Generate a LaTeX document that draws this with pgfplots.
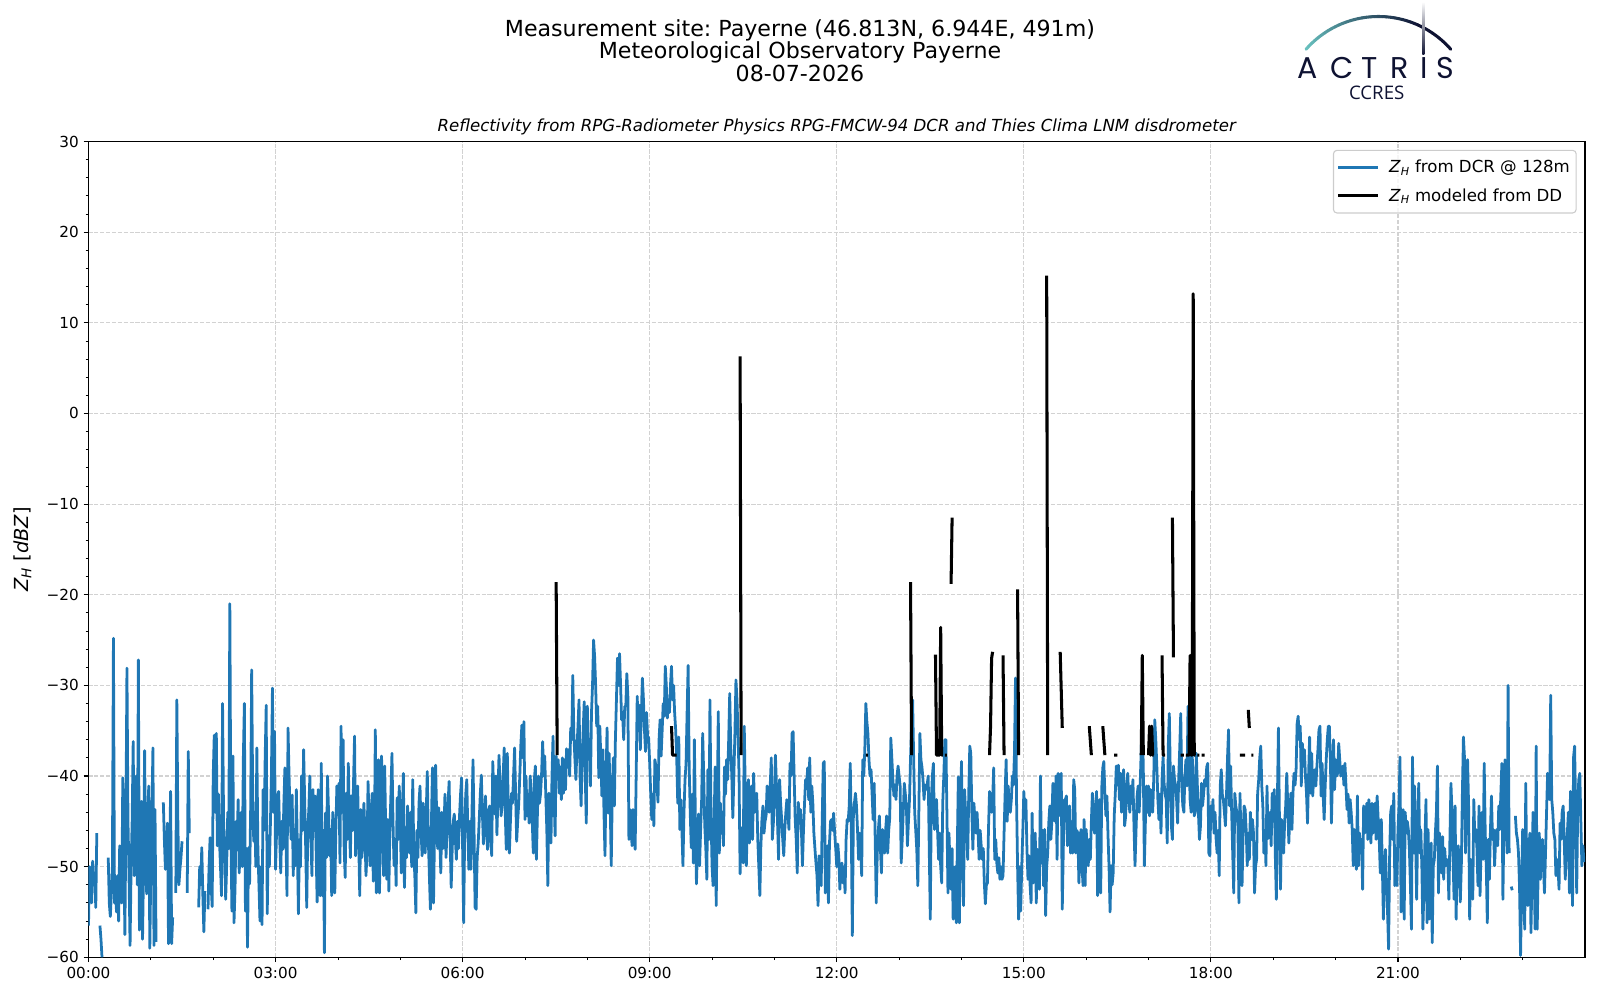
\documentclass[border=0pt]{standalone}
\usepackage{fontspec}
\setmainfont{DejaVu Sans}
\newfontfamily\logofont{Poppins}
\newfontfamily\ccresfont{Open Sans}
\usepackage{pgfplots}
\pgfplotsset{compat=1.18}
\definecolor{mplblue}{HTML}{1F77B4}
\definecolor{actnavy}{RGB}{14,18,50}
\definecolor{actteal}{RGB}{104,192,190}
\frenchspacing
\begin{document}
\begin{tikzpicture}
\useasboundingbox (0,0) rectangle (16in,10in);
\node[anchor=base,font=\fontsize{16}{19}\selectfont] at (8in,9.635in) {Measurement site: Payerne (46.813N, 6.944E, 491m)};
\node[anchor=base,font=\fontsize{16}{19}\selectfont] at (8in,9.41in) {Meteorological Observatory Payerne};
\node[anchor=base,font=\fontsize{16}{19}\selectfont] at (8in,9.185in) {08-07-2026};
\node[anchor=base,font=\fontsize{12}{14}\selectfont\itshape] at (8.367in,8.683in) {Reflectivity from RPG-Radiometer Physics RPG-FMCW-94 DCR and Thies Clima LNM disdrometer};
\begin{axis}[
  at={(0.885in,0.427in)}, anchor=south west,
  width=14.965in, height=8.158in, scale only axis,
  xmin=0, xmax=1440, ymin=-60, ymax=30,
  xtick={0,180,...,1260},
  xticklabels={00:00,03:00,06:00,09:00,12:00,15:00,18:00,21:00},
  minor xtick={60,120,240,300,420,480,600,660,780,840,960,1020,1140,1200,1320,1380},
  ytick={-60,-50,...,30},
  yticklabels={−60,−50,−40,−30,−20,−10,0,10,20,30},
  minor ytick={-58,-56,-54,-52,-48,-46,-44,-42,-38,-36,-34,-32,-28,-26,-24,-22,-18,-16,-14,-12,-8,-6,-4,-2,2,4,6,8,12,14,16,18,22,24,26,28},
  tick align=outside, tick pos=left,
  major tick length=3.5pt, minor tick length=2pt,
  every major tick/.append style={black,line width=0.8pt},
  every minor tick/.append style={black,line width=0.6pt},
  axis line style={line width=0.8pt},
  grid=major,
  major grid style={draw=gray!35, line width=0.8pt, dash pattern=on 2.96pt off 1.28pt},
  tick label style={font=\fontsize{11}{13}\selectfont},
  ylabel={\textit{Z}\textsubscript{\textit{H}} [\textit{dBZ}]},
  every axis y label/.style={at={(axis description cs:-0.0441,0.5)}, rotate=90, anchor=center, font=\fontsize{14}{16}\selectfont},
  unbounded coords=jump,
  legend style={at={(1,1)}, anchor=north east, xshift=-6pt, yshift=-6pt, draw=black!20, line width=0.8pt, rounded corners=2.5pt, fill=white, fill opacity=0.8, text opacity=1, draw opacity=1, font=\fontsize{12}{14}\selectfont, inner xsep=2.5pt, inner ysep=5pt, row sep=6pt, /tikz/every odd column/.append style={column sep=5pt}},
  legend cell align=left,
  legend image code/.code={\draw[#1] (0pt,0pt) -- (28.5pt,0pt);},
]
\addplot[mplblue, line width=2pt, line join=round] table[header=false, row sep=\\, x expr=\coordindex, y index=0] {
-56.5\\ -50\\ -52\\ -54\\ -49.4\\ -52\\ -50.7\\ -54.5\\ -46.3\\ nan\\ nan\\ -56.5\\ -58\\ -60\\ nan\\ nan\\ nan\\ nan\\ nan\\ -49\\ -54\\ -55.5\\ -53\\ -50\\ -24.8\\ -54\\ -53\\ -55\\ -51\\ -56\\ -47.7\\ -50\\ -54\\ -40.2\\ -48\\ -57.5\\ -45\\ -28.1\\ -45\\ -51\\ -58.7\\ -50\\ -45\\ -36.2\\ -51\\ -46\\ -40\\ -52\\ -27.2\\ -57\\ -48\\ -42.8\\ -58\\ -50\\ -37.2\\ -50\\ -53\\ -44\\ -41.1\\ -59\\
-50\\ -44\\ -36.9\\ -58.7\\ -43.7\\ -58.3\\ nan\\ nan\\ nan\\ nan\\ nan\\ nan\\ -42.9\\ -47\\ -50.3\\ -48\\ -45.2\\ -58.5\\ -50\\ -41.7\\ -58.5\\ -55.6\\ nan\\ nan\\ -52.9\\ -31.6\\ -45\\ -52\\ -50.3\\ -49\\ -47.2\\ nan\\ nan\\ nan\\ nan\\ -52.9\\ -37.3\\ -46.3\\ nan\\ nan\\ nan\\ nan\\ nan\\ nan\\ nan\\ nan\\ -54.5\\ -50\\ -52\\ -47.9\\ -53\\ -57.2\\ -52.7\\ nan\\ nan\\ -54.7\\ -50\\ -46.8\\ -52\\ -54.4\\
-40\\ -35.5\\ -44\\ -35.3\\ -47.7\\ -42\\ -47\\ -50\\ -53.2\\ -32\\ -45\\ -48.4\\ -53.6\\ -49.7\\ -44\\ -48\\ -21\\ -46\\ -54.9\\ -37.8\\ -56.2\\ -52.5\\ -45\\ -47.5\\ -42.6\\ -50.7\\ -47.9\\ -44\\ -50\\ -38\\ -32\\ -54.9\\ -48\\ -58.9\\ -47.9\\ -51.9\\ -44\\ -28.3\\ -42\\ -47.2\\ -44\\ -50\\ -36.9\\ -48\\ -52\\ -56\\ -50\\ -56.4\\ -41.5\\ -46\\ -38\\ -32.2\\ -55.2\\ -46.6\\ -50\\ -45.5\\ -40\\ -30.3\\ -44\\ -35.1\\
-50.3\\ -46\\ -42.2\\ -41.7\\ -47\\ -50.7\\ -45\\ -48.1\\ -43\\ -39.1\\ -47\\ -53.2\\ -34.7\\ -40\\ -44.1\\ -47\\ -42.1\\ -51\\ -46\\ -49.9\\ -41.5\\ -48\\ -55.2\\ -47\\ -50\\ -40\\ -46\\ -37.1\\ -42.6\\ -48\\ -54.5\\ -46\\ -43.7\\ -40\\ -47\\ -51\\ -41.5\\ -46\\ -42.2\\ -48\\ -53.9\\ -41.5\\ -47\\ -53.2\\ -38.6\\ -53.2\\ -46\\ -59.5\\ -44.1\\ -49\\ -40\\ -44\\ -48.8\\ -45.9\\ -53.2\\ -44\\ -45.7\\ -52.9\\ -46\\ -41.1\\
-44\\ -40.8\\ -49.6\\ -34.5\\ -44\\ -36\\ -48\\ -51.2\\ -41.9\\ -47\\ -38.6\\ -45\\ -49\\ -42.2\\ -46\\ -40.8\\ -35.6\\ -48.8\\ -44\\ -41.1\\ -47\\ -53.2\\ -43.7\\ -49\\ -47.4\\ -43\\ -46.3\\ -51\\ -48.5\\ -40.6\\ -45\\ -49.9\\ -44\\ -41.9\\ -51.6\\ -49\\ -34.9\\ -52.9\\ -44\\ -38.2\\ -52.9\\ -45\\ -37.8\\ -46\\ -51\\ -38.9\\ -46\\ -51.4\\ -44.8\\ -52.7\\ -46\\ -42\\ -37.5\\ -45\\ -49.9\\ -47\\ -52.1\\ -42.4\\ -47\\ -41.1\\
-45\\ -50.7\\ -44\\ -39.7\\ -52.3\\ -47\\ -49\\ -43.3\\ -46\\ -48.5\\ -44\\ -50\\ -40.4\\ -48.5\\ -51\\ -55.1\\ -46\\ -49\\ -43\\ -41.1\\ -46\\ -48.8\\ -43\\ -44.5\\ -48.5\\ -44\\ -39.5\\ -47\\ -51\\ -54.7\\ -45\\ -39.1\\ -54\\ -46\\ -38.8\\ -44.2\\ -48\\ -43.5\\ -47\\ -50.7\\ -44\\ -48\\ -46.3\\ -42\\ -49\\ -46\\ -43\\ -40.6\\ -47\\ -52.3\\ -48\\ -45\\ -44.2\\ -47\\ -49.2\\ -45\\ -48\\ -44.4\\ -42\\ -40.2\\
-48\\ -56.2\\ -46\\ -42\\ -40.4\\ -46\\ -50.3\\ -45\\ -50.3\\ -44\\ -38.2\\ -46\\ -54.5\\ -54.7\\ -49\\ -47.4\\ -44.8\\ -42\\ -39.9\\ -44\\ -47.5\\ -45\\ -42.2\\ -46\\ -48.1\\ -44\\ -43.3\\ -47\\ -48.8\\ -38.4\\ -42\\ -44.2\\ -40\\ -46.5\\ -42\\ -37.7\\ -41\\ -44.4\\ -43.3\\ -40\\ -36.9\\ -44\\ -48.1\\ -37.5\\ -44\\ -48.5\\ -45\\ -41.9\\ -43\\ -40\\ -36.9\\ -42\\ -47.2\\ -45\\ -43\\ -40\\ -36.6\\ -34.4\\ -38\\ -34\\
-44.8\\ -40\\ -44.4\\ -42\\ -45.2\\ -40\\ -41.9\\ -45\\ -48.5\\ -40.4\\ -38.9\\ -49.2\\ -44\\ -40\\ -43\\ -41.9\\ -39.7\\ -36.2\\ -40\\ -37.8\\ -42\\ -45.9\\ -52.1\\ -41.9\\ -46\\ -47.4\\ -40\\ -35.6\\ -42.2\\ -46.6\\ -37.8\\ -40\\ -38.2\\ -41.9\\ -39\\ -42.6\\ -38\\ -41.9\\ -38.2\\ -41.5\\ -37\\ -39\\ -37.1\\ -40\\ -34.7\\ -36\\ -28.9\\ -35.3\\ -38\\ -40.4\\ -37\\ -34.5\\ -31.6\\ -40\\ -43.3\\ -38.2\\ -35\\ -31.8\\ -40\\ -45.2\\
-32.3\\ -38\\ -36\\ -41.1\\ -33\\ -30\\ -25\\ -26.8\\ -30\\ -34.5\\ -32.3\\ -40.2\\ -34.5\\ -38\\ -42.2\\ -37.1\\ -44\\ -48.8\\ -40\\ -34.7\\ -44.1\\ -37.5\\ -43\\ -49.9\\ -42\\ -38\\ -43.3\\ -36\\ -31.6\\ -27\\ -30\\ -26.5\\ -30\\ -33.8\\ -33.4\\ -36\\ -32.3\\ -32.3\\ -28.7\\ -31.2\\ -47\\ -43.7\\ -45\\ -47.7\\ -43.7\\ -45\\ -48.1\\ -40\\ -31.2\\ -35\\ -32.2\\ -37.1\\ -33\\ -29.2\\ -31.6\\ -35\\ -37.3\\ -33\\ -35.6\\ -35.8\\
-38.6\\ -42\\ -44.8\\ -42\\ -45.5\\ -38.2\\ -38.9\\ -41\\ -42.9\\ -36\\ -33.8\\ -37.8\\ -35\\ -32\\ -33.4\\ -27.9\\ -30\\ -33.6\\ -31.6\\ -33\\ -30\\ -27.9\\ -31.6\\ -30\\ -33\\ -34.9\\ -38\\ -43\\ -35.7\\ -45.9\\ -42.6\\ -46\\ -49.9\\ -44\\ -40.4\\ -38.6\\ -33\\ -27.8\\ -39\\ -44\\ -47.9\\ -42\\ -49.6\\ -36\\ -45\\ -51.9\\ -48\\ -44.2\\ -49.9\\ -46\\ -42.6\\ -35.3\\ -40\\ -45.5\\ -48\\ -51.4\\ -39.3\\ -47\\ -31.6\\ -44\\
-49.9\\ -52.1\\ -45\\ -39\\ -54.3\\ -44\\ -32.9\\ -48.5\\ -43\\ -46.3\\ -44\\ -47.7\\ -39\\ -42\\ -38.2\\ -40.4\\ -36\\ -30.9\\ -36.7\\ -40\\ -44.6\\ -40\\ -35.3\\ -29.4\\ -31.6\\ -35.3\\ -40\\ -50.8\\ -45.7\\ -47\\ -49.6\\ -34.5\\ -42\\ -49.9\\ -45\\ -40.4\\ -47.4\\ -44\\ -41.1\\ -47\\ -39.7\\ -44\\ -42.6\\ -41.9\\ -47\\ -50\\ -53.2\\ -47.7\\ -44.8\\ -43.3\\ -46.3\\ -45\\ -44.4\\ -41.1\\ -43\\ -44\\ -41\\ -38\\ -47\\ -45.2\\
-42\\ -37.7\\ -41.1\\ -45\\ -49.2\\ -40.4\\ -43\\ -44.8\\ -47\\ -48.8\\ -45.9\\ -44\\ -42.6\\ -44\\ -45.9\\ -38.6\\ -40\\ -35.3\\ -35.1\\ -40\\ -44.8\\ -47\\ -50.7\\ -42.9\\ -45\\ -43.7\\ -46\\ -49.9\\ -45.9\\ -43\\ -40.4\\ -41\\ -39.1\\ -42.6\\ -38\\ -44\\ -41.1\\ -43\\ -46.3\\ -48\\ -49.6\\ -51\\ -54.3\\ -48.8\\ -50\\ -52.1\\ -45\\ -38.6\\ -38.4\\ -52.9\\ -49\\ -47.7\\ -54\\ -47.4\\ -45\\ -44.8\\ -46\\ -44.1\\ -46.3\\ -48\\
-50\\ -47.5\\ -49\\ -52.5\\ -50\\ -49.6\\ -51.8\\ -50\\ -52.9\\ -47\\ -44.8\\ -45\\ -43.3\\ -38.6\\ -46\\ -57.6\\ -44.4\\ -43\\ -41.9\\ -43.3\\ -46\\ -49.2\\ -46.3\\ -48\\ -51\\ -38.2\\ -40\\ -37.1\\ -32\\ -34\\ -35.3\\ -38.2\\ -40\\ -39.3\\ -42\\ -44.8\\ -40.8\\ -47\\ -54\\ -48.5\\ -46\\ -44.4\\ -48\\ -50.7\\ -45.9\\ -47\\ -48.5\\ -46\\ -44.4\\ -48.5\\ -46\\ -44.6\\ -35.8\\ -38\\ -40.4\\ -42.2\\ -41\\ -42.6\\ -40\\ -38.9\\
-40\\ -41.1\\ -49.6\\ -47\\ -44\\ -40.8\\ -42\\ -43.3\\ -47.7\\ -45\\ -42.6\\ -38\\ -34.5\\ -31.6\\ -38\\ -44\\ -46\\ -48.1\\ -52.1\\ -44\\ -35.3\\ -38.2\\ -39\\ -40.4\\ -42.6\\ -41\\ -41.5\\ -41\\ -40\\ -48\\ -55.8\\ -42.6\\ -40\\ -38.6\\ -45.9\\ -44\\ -42.6\\ -46\\ -49.2\\ -46.3\\ -50\\ -51.8\\ -42.9\\ -40\\ -36\\ -36\\ -44\\ -52.9\\ -46.3\\ -50\\ -52.5\\ -48\\ -55.8\\ -53.6\\ -50\\ -56.2\\ -48\\ -40.1\\ -56.2\\ -46\\
-38.4\\ -48\\ -54.3\\ -41.5\\ -44\\ -45.9\\ -49.2\\ -42\\ -36.7\\ -37.5\\ -44\\ -48.1\\ -43\\ -45\\ -46.3\\ -44\\ -46.3\\ -49.2\\ -46\\ -47.7\\ -49.2\\ -48\\ -51.8\\ -54.1\\ -52\\ -51.8\\ -45.9\\ -41.7\\ -43\\ -44\\ -42.6\\ -39.1\\ -49.2\\ -47\\ -49.6\\ -50.7\\ -49\\ -51.4\\ -50\\ -51.4\\ -51\\ -46.3\\ -42\\ -38.2\\ -45\\ -41.1\\ -43.3\\ -44\\ -42.6\\ -40\\ -41\\ -37.5\\ -29.2\\ -42.6\\ -50\\ -55.8\\ -50\\ -54.9\\ -50\\ -46.3\\
-41.7\\ -44\\ -42.6\\ -48\\ -51.4\\ -48.8\\ -52\\ -54\\ -44.1\\ -51.8\\ -48\\ -46.3\\ -54\\ -48.1\\ -50\\ -52.5\\ -40\\ -49.6\\ -46\\ -52.1\\ -45.9\\ -55.4\\ -50\\ -48.5\\ -45.2\\ -43.3\\ -47\\ -45\\ -40.8\\ -43.3\\ -45\\ -40\\ -49.2\\ -39.7\\ -42\\ -44.4\\ -39.7\\ -54.7\\ -48\\ -42.6\\ -42.6\\ -42.2\\ -47.7\\ -45\\ -43.3\\ -48.5\\ -47\\ -48.5\\ -40.4\\ -41.5\\ -48.5\\ -46\\ -46.3\\ -51.8\\ -48\\ -45.9\\ -50\\ -52.1\\ -44.8\\ -52.1\\
-45.9\\ -48\\ -49.9\\ -47\\ -49.2\\ -45\\ -41.9\\ -44.4\\ -46.3\\ -44\\ -41.7\\ -53.2\\ -47\\ -42.6\\ -52.9\\ -41.3\\ -39.1\\ -38.4\\ -42\\ -44.4\\ -42.2\\ -46.5\\ -50\\ -55\\ -49.9\\ -52\\ -50.7\\ -44.4\\ -42\\ -38.9\\ -41\\ -38.8\\ -42.6\\ -39.7\\ -44\\ -41\\ -39.3\\ -45.5\\ -44.4\\ -41\\ -39.7\\ -42.6\\ -44\\ -41.1\\ -43\\ -40.4\\ -45.5\\ -49.9\\ -46\\ -42.2\\ -41.1\\ -44\\ -40.8\\ -37\\ -33.4\\ -39.3\\ -49.9\\ -45\\ -41.1\\ -44\\
-41.1\\ -44.4\\ -41.5\\ -42\\ -44\\ -40.4\\ -33.8\\ -36\\ -38.9\\ -42.6\\ -44.8\\ -42\\ -46.3\\ -40.4\\ -37.9\\ -40.8\\ -42\\ -42.6\\ -47.4\\ -36.7\\ -33.1\\ -40\\ -45.5\\ -47\\ -38.9\\ -40.4\\ -41\\ -42.6\\ -45.2\\ -40.4\\ -37\\ -33.1\\ -41.1\\ -43.3\\ -44\\ -40\\ -38.2\\ -41.1\\ -32.3\\ -38\\ -42.6\\ -44\\ -37.5\\ -41\\ -44.4\\ -44\\ -37.5\\ -41.1\\ -44\\ -47\\ -45.5\\ -40.8\\ -43.3\\ -42\\ -40.4\\ -41.1\\ -39\\ -38.6\\ -48.5\\ -48.8\\
-43.3\\ -45\\ -42.6\\ -46.3\\ -44\\ -46.9\\ -48.5\\ -46\\ -51\\ -41.1\\ -39.3\\ -42\\ -42.6\\ -44\\ -45.5\\ -42.2\\ -38\\ -34.9\\ -43.3\\ -38.9\\ -44\\ -48.5\\ -52.9\\ -41.9\\ -43.3\\ -44\\ -45.5\\ -54\\ -41.9\\ -47\\ -52.1\\ -46.3\\ -43.3\\ -43.7\\ -46\\ -49.9\\ -46.3\\ -49.2\\ -44\\ -47\\ -44.8\\ -46.3\\ -52.9\\ -50\\ -49.2\\ -41.9\\ -40.4\\ -38\\ -36.7\\ -41.1\\ -43.3\\ -48.5\\ -46\\ -49.9\\ -41.1\\ -46.9\\ -45.2\\ -44\\ -47.7\\ -41.9\\
-44\\ -41.5\\ -48.8\\ -53.6\\ -42.6\\ -34.7\\ -45\\ -52.5\\ -44.8\\ -46.3\\ -48.5\\ -45\\ -43.3\\ -39.7\\ -43.3\\ -47.4\\ -44\\ -41.9\\ -45.9\\ -41.9\\ -39.7\\ -41\\ -39.3\\ -34.2\\ -33.4\\ -36\\ -34.5\\ -41.1\\ -36.4\\ -38.9\\ -37.1\\ -40\\ -41.9\\ -45.2\\ -40\\ -35.7\\ -41.9\\ -37.5\\ -42.2\\ -40\\ -39.3\\ -41.1\\ -39\\ -37.1\\ -34.9\\ -34.5\\ -42.2\\ -38.6\\ -42\\ -44.8\\ -41.1\\ -38.2\\ -36\\ -34.5\\ -34.5\\ -38.2\\ -45.2\\ -40\\ -36\\ -41.5\\
-38.2\\ -40\\ -39.7\\ -36.4\\ -38.2\\ -40\\ -39.7\\ -38.9\\ -41\\ -38.6\\ -41.1\\ -43.7\\ -42\\ -45.2\\ -42.6\\ -44\\ -45.9\\ -49.9\\ -45.9\\ -47\\ -50.3\\ -42.2\\ -49.9\\ -46.3\\ -48.5\\ -47\\ -52.5\\ -43.3\\ -46.3\\ -45\\ -43\\ -47\\ -42.6\\ -45\\ -47.4\\ -43\\ -46.3\\ -44\\ -43\\ -47\\ -42.2\\ -44.8\\ -47\\ -50.7\\ -44.8\\ -50\\ -55.8\\ -49.9\\ -48.1\\ -52.1\\ -55\\ -59.1\\ -48.8\\ -44\\ -43.3\\ -47\\ -41.9\\ -52.1\\ -48.5\\ -52.1\\
-46\\ -43.3\\ -37.9\\ -55\\ -48\\ -43.7\\ -55.8\\ -44\\ -46.3\\ -45\\ -45.9\\ -48.1\\ -52\\ -56.9\\ -37.9\\ -48.5\\ -41.1\\ -47\\ -53.6\\ -45.9\\ -40.8\\ -48.5\\ -45.9\\ -50\\ -56.9\\ -52.5\\ -47\\ -42.6\\ -56.2\\ -45.9\\ -55.8\\ -50\\ -47.4\\ -58.4\\ -49.9\\ -49.2\\ -46.3\\ -44\\ -38.9\\ -52.9\\ -46.3\\ -48\\ -50.7\\ -46.7\\ -51.4\\ -48\\ -49.9\\ -49.2\\ -49.6\\ -53.6\\ -47\\ -40.8\\ -44\\ -49\\ -53.6\\ -43.3\\ -55.8\\ -48.5\\ -47.7\\ -50\\
-53.9\\ -49.9\\ -42\\ -35.7\\ -37.9\\ -48.5\\ -42\\ -38.2\\ -43.3\\ -55.8\\ -49.2\\ -50\\ -53.6\\ -42.6\\ -47\\ -45.9\\ -48\\ -52.1\\ -43.3\\ -53.2\\ -48\\ -44\\ -49.2\\ -38.6\\ -46.3\\ -50\\ -56.2\\ -47\\ -51.4\\ -46\\ -42.2\\ -47\\ -45.9\\ -49.9\\ -47\\ -45.9\\ -47.7\\ -43.3\\ -45.9\\ -42\\ -38.6\\ -53.6\\ -45\\ -38.2\\ -41.1\\ -48.5\\ -30\\ -48.5\\ nan\\ -52.2\\ -52.6\\ nan\\ nan\\ -44.4\\ -46.3\\ -47\\ -48.5\\ -52.2\\ -59.8\\ -52.5\\
-45.9\\ -52\\ -56.9\\ -40.8\\ -51.4\\ -54.3\\ -48\\ -46.3\\ -57.3\\ -50.7\\ -44\\ -50\\ -56.9\\ -36.7\\ -56.9\\ -50\\ -46.3\\ -51.4\\ -48.5\\ -47\\ -50\\ -52.9\\ -48.5\\ -44\\ -39.7\\ -42\\ -42.6\\ -31.1\\ -42.6\\ -44\\ -46.3\\ -47\\ -51\\ -49.2\\ -50\\ -52.5\\ -45.2\\ -47\\ -44\\ -43.3\\ -47\\ -51.4\\ -48\\ -46.3\\ -44\\ -52.9\\ -41.7\\ -48\\ -54.3\\ -37.9\\ -36.7\\ -44\\ -52.9\\ -43.3\\ -40.4\\ -39.7\\ -45\\ -49.9\\ -47.7\\ -49.5\\
};
\addlegendentry{\textit{Z}\textsubscript{\textit{H}} from DCR @ 128m}
\addplot[black, line width=2.2pt, line join=round] coordinates {
(450,-18.6) (451,-37.7) (452,nan)
(561,-34.5) (562,-37.7) (566,-37.7) (567,nan)
(627,6.3) (628,-37.7) (629,nan)
(748,-37.7) (750,-37.7) (751,nan)
(791,-18.6) (792,-37.7) (793,nan)
(815,-26.6) (816,-37.7) (819,-37.7) (820,-23.6) (821,-37.7) (822,-37.7) (823,nan)
(824,-37.7) (826,-37.7) (827,nan)
(830,-18.8) (831,-11.5) (832,nan)
(867,-37.7) (868,-34.5) (869,-27) (870,-26.3) (871,nan)
(880,-26.7) (881,-37.7) (882,nan)
(894,-19.4) (895,-37.7) (896,nan)
(922,15.2) (923,-37.7) (924,nan)
(935,-26.3) (937,-34.7) (938,nan)
(963,-34.5) (965,-37.7) (966,nan)
(976,-34.5) (978,-37.7) (979,nan)
(987,-37.7) (990,-37.7) (991,nan)
(1013,-37.7) (1014,-26.7) (1015,-37.7) (1016,nan)
(1020,-37.7) (1021,-34.5) (1022,-37.7) (1023,-34.5) (1024,-37.7) (1025,-37.7) (1026,nan)
(1033,-26.7) (1034,-37.7) (1036,-37.7) (1037,nan)
(1043,-11.5) (1044,-26.9) (1045,nan)
(1051,-37.7) (1054,-37.7) (1055,nan)
(1056,-37.7) (1059,-37.7) (1060,-26.7) (1061,-37.7) (1062,-37.7) (1063,13.2) (1064,-37.7) (1065,-37.7) (1066,nan)
(1067,-37.7) (1069,-37.7) (1070,nan)
(1071,-37.7) (1074,-37.7) (1075,nan)
(1108,-37.7) (1113,-37.7) (1114,nan)
(1116,-32.7) (1117,-34.7) (1118,nan)
(1119,-37.7) (1121,-37.7)
};
\addlegendentry{\textit{Z}\textsubscript{\textit{H}} modeled from DD}
\end{axis}
% logo
\foreach \i in {0,...,39} {
  \pgfmathsetmacro\aa{138.7-\i*97.4/40}
  \pgfmathsetmacro\ab{138.7-(\i+1)*97.4/40}
  \pgfmathtruncatemacro\p{min(100,\i*100/30)}
  \draw[line width=2.2pt, line cap=round, color=actnavy!\p!actteal] ([shift={(\aa:0.963in)}]13.784in,8.872in) arc[start angle=\aa, end angle=\ab, radius=0.963in];
}
\shade[top color=white, bottom color=actnavy] (14.223in,9.45in) rectangle (14.243in,9.983in);
\begin{scope}[font=\logofont\fontsize{21.7}{24}\selectfont, text=actnavy, every node/.style={inner sep=0pt}]
\node[anchor=base] at (13.073in,9.217in) {A};
\node[anchor=base] at (13.42in,9.217in) {C};
\node[anchor=base] at (13.70in,9.217in) {T};
\node[anchor=base] at (14.00in,9.217in) {R};
\node[anchor=base] at (14.24in,9.217in) {I};
\node[anchor=base] at (14.45in,9.217in) {S};
\end{scope}
\node[anchor=base, font=\ccresfont\fontsize{13.5}{15}\selectfont, text=actnavy, inner sep=0pt] at (13.767in,9.007in) {CCRES};
\end{tikzpicture}
\end{document}
